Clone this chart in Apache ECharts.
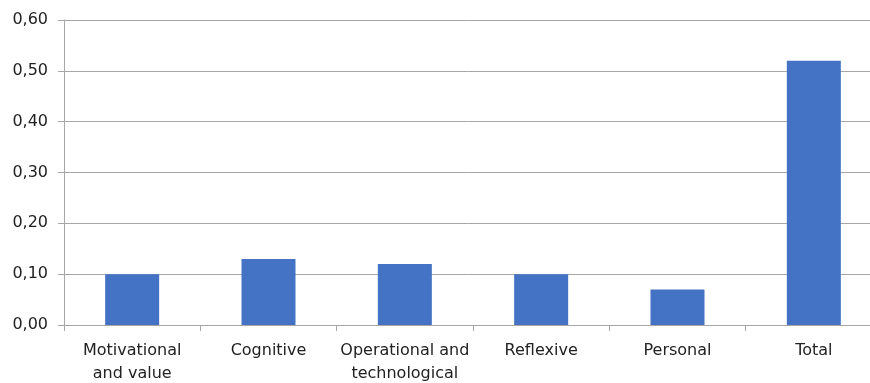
<!DOCTYPE html>
<html>
<head>
<meta charset="utf-8">
<script src="https://cdn.jsdelivr.net/npm/echarts@6/dist/echarts.min.js"></script>
<style>
html,body{margin:0;padding:0;background:#fff;overflow:hidden;}
#chart{width:870px;height:383px;}
</style>
</head>
<body>
<div id="chart"></div>
<script>
const categories = ["Motivational\nand value", "Cognitive", "Operational and\ntechnological", "Reflexive", "Personal", "Total"];
const values = [0.10, 0.13, 0.12, 0.10, 0.07, 0.52];
const yTicks = [0, 0.1, 0.2, 0.3, 0.4, 0.5, 0.6];

const chart = echarts.init(document.getElementById('chart'));
chart.setOption({
  animation: false,
  grid: { left: 64, width: 818, top: 20, height: 305, containLabel: false, outerBoundsMode: 'none' },
  xAxis: {
    type: 'category',
    data: categories,
    axisLine: { lineStyle: { color: '#a6a6a6', width: 1 } },
    axisTick: { show: true, length: 6, lineStyle: { color: '#a6a6a6' } },
    axisLabel: {
      color: '#222', fontFamily: 'DejaVu Sans', fontSize: 16,
      lineHeight: 23, margin: 14, interval: 0
    }
  },
  yAxis: {
    type: 'value',
    min: yTicks[0], max: yTicks[yTicks.length - 1], interval: 0.1,
    axisLine: { show: true, lineStyle: { color: '#a6a6a6', width: 1 } },
    axisTick: { show: true, length: 6, lineStyle: { color: '#a6a6a6' } },
    splitLine: { lineStyle: { color: '#a6a6a6', width: 1 } },
    axisLabel: {
      color: '#222', fontFamily: 'DejaVu Sans', fontSize: 16, margin: 16,
      formatter: v => v.toFixed(2).replace('.', ',')
    }
  },
  series: [{
    type: 'bar',
    data: values,
    barWidth: 54,
    itemStyle: { color: '#4472C4' }
  }]
});
</script>
</body>
</html>
